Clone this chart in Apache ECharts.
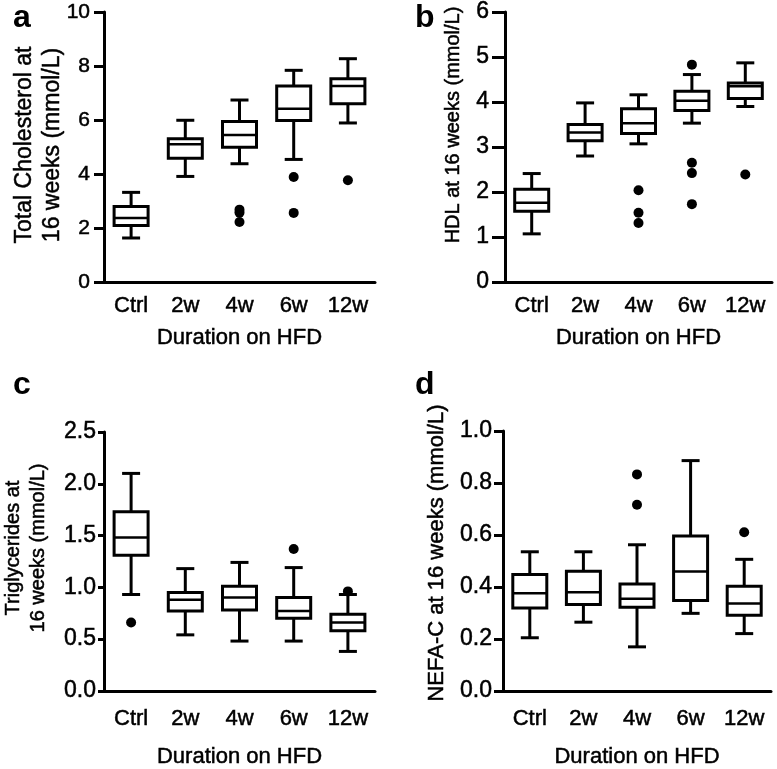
<!DOCTYPE html>
<html>
<head>
<meta charset="utf-8">
<script src="https://cdn.jsdelivr.net/npm/echarts@6/dist/echarts.min.js"></script>
<style>html,body{margin:0;padding:0;background:#fff}#c{width:777px;height:769px}</style>
</head>
<body>
<div id="c"></div>
<script>
const categories = ['Ctrl', '2w', '4w', '6w', '12w'];
// box rows: [lower whisker, Q1, median, Q3, upper whisker]
const cholBoxes = [[1.63, 2.09, 2.37, 2.80, 3.32], [3.91, 4.58, 5.10, 5.31, 5.99], [4.38, 4.99, 5.44, 5.94, 6.74], [4.54, 5.98, 6.42, 7.26, 7.84], [5.89, 6.60, 7.26, 7.53, 8.27]];
const cholOutliers = [['4w', 2.68], ['4w', 2.57], ['4w', 2.22], ['6w', 3.89], ['6w', 2.56], ['12w', 3.77]];
const hdlBoxes = [[1.07, 1.57, 1.76, 2.06, 2.41], [2.80, 3.14, 3.32, 3.50, 3.98], [3.07, 3.30, 3.53, 3.85, 4.16], [3.53, 3.81, 4.03, 4.24, 4.61], [3.90, 4.08, 4.35, 4.42, 4.87]];
const hdlOutliers = [['4w', 2.04], ['4w', 1.54], ['4w', 1.31], ['6w', 4.83], ['6w', 2.65], ['6w', 2.42], ['6w', 1.73], ['12w', 2.39]];
const tgBoxes = [[0.93, 1.31, 1.48, 1.73, 2.10], [0.54, 0.77, 0.88, 0.95, 1.18], [0.48, 0.78, 0.90, 1.01, 1.24], [0.48, 0.70, 0.77, 0.90, 1.19], [0.38, 0.58, 0.66, 0.74, 0.93]];
const tgOutliers = [['Ctrl', 0.66], ['6w', 1.37], ['12w', 0.96]];
const nefaBoxes = [[0.204, 0.319, 0.375, 0.448, 0.535], [0.264, 0.332, 0.379, 0.46, 0.535], [0.169, 0.321, 0.354, 0.411, 0.562], [0.298, 0.347, 0.459, 0.596, 0.886], [0.22, 0.291, 0.336, 0.402, 0.506]];
const nefaOutliers = [['4w', 0.833], ['4w', 0.716], ['12w', 0.61]];
const cholTicks = [0, 2, 4, 6, 8, 10];
const hdlTicks = [0, 1, 2, 3, 4, 5, 6];
const tgTicks = [0.0, 0.5, 1.0, 1.5, 2.0, 2.5];
const nefaTicks = [0.0, 0.2, 0.4, 0.6, 0.8, 1.0];
const xTitle = 'Duration on HFD';
const yTitles = [['Total Cholesterol at', '16 weeks (mmol/L)'], ['HDL at 16 weeks (mmol/L)'], ['Triglycerides at', '16 weeks (mmol/L)'], ['NEFA-C at 16 weeks (mmol/L)']];
const panelLetters = ['a', 'b', 'c', 'd'];

const FONT = '"Liberation Sans", Arial, sans-serif';
const TB = {textBorderColor: '#000', textBorderWidth: 0.5};
const panels = [
  {boxes: cholBoxes, outliers: cholOutliers, ticks: cholTicks, dec: 0,
   grid: {left: 104, top: 12, width: 271, height: 270}, yTick: 10, yMargin: 14, yFont: 21,
   xNameGap: 45, xMargin: 13,
   title: {x: 39, y: 145, size: 23, lh: 28}, letter: {x: 13, y: 18}},
  {boxes: hdlBoxes, outliers: hdlOutliers, ticks: hdlTicks, dec: 0,
   grid: {left: 505, top: 12, width: 267, height: 270}, yTick: 13, yMargin: 16, yFont: 23,
   xNameGap: 45, xMargin: 13,
   title: {x: 453, y: 125, size: 20, lh: 24}, letter: {x: 415, y: 18}},
  {boxes: tgBoxes, outliers: tgOutliers, ticks: tgTicks, dec: 1,
   grid: {left: 104, top: 432, width: 271, height: 270}, yTick: 6, yMargin: 8, yFont: 23,
   xNameGap: 55, xMargin: 17,
   title: {x: 26, y: 548, size: 20, lh: 25}, letter: {x: 13, y: 385}},
  {boxes: nefaBoxes, outliers: nefaOutliers, ticks: nefaTicks, dec: 1,
   grid: {left: 503, top: 431, width: 268, height: 270}, yTick: 9, yMargin: 11, yFont: 23,
   xNameGap: 55, xMargin: 17,
   title: {x: 437, y: 553, size: 22, lh: 26}, letter: {x: 415, y: 385}}
];

const BLACK = '#000';
function renderBox(params, api) {
  const i = api.value(0);
  const lo = api.coord([i, api.value(1)]);
  const q1 = api.coord([i, api.value(2)]);
  const md = api.coord([i, api.value(3)]);
  const q3 = api.coord([i, api.value(4)]);
  const hi = api.coord([i, api.value(5)]);
  const cx = lo[0];
  const hb = 17, hc = 9;
  const ls = {stroke: BLACK, lineWidth: 3};
  return {
    type: 'group',
    children: [
      {type: 'line', shape: {x1: cx, y1: hi[1], x2: cx, y2: q3[1]}, style: ls},
      {type: 'line', shape: {x1: cx, y1: q1[1], x2: cx, y2: lo[1]}, style: ls},
      {type: 'line', shape: {x1: cx - hc, y1: hi[1], x2: cx + hc, y2: hi[1]}, style: ls},
      {type: 'line', shape: {x1: cx - hc, y1: lo[1], x2: cx + hc, y2: lo[1]}, style: ls},
      {type: 'rect', shape: {x: cx - hb, y: q3[1], width: 2 * hb, height: q1[1] - q3[1]}, style: {fill: '#fff', stroke: BLACK, lineWidth: 3}},
      {type: 'line', shape: {x1: cx - hb, y1: md[1], x2: cx + hb, y2: md[1]}, style: {stroke: BLACK, lineWidth: 2.5}}
    ]
  };
}

const option = {
  animation: false,
  backgroundColor: '#fff',
  textStyle: {fontFamily: FONT, color: BLACK},
  grid: [], xAxis: [], yAxis: [], series: [], graphic: []
};

panels.forEach((p, k) => {
  option.grid.push(Object.assign({containLabel: false}, p.grid));
  option.xAxis.push({
    type: 'category', gridIndex: k, data: categories, boundaryGap: true,
    name: xTitle, nameLocation: 'middle', nameGap: p.xNameGap,
    nameTextStyle: Object.assign({fontSize: 22, color: BLACK, fontFamily: FONT}, TB),
    axisLine: {lineStyle: {color: BLACK, width: 3}},
    axisTick: {alignWithLabel: true, length: 6, lineStyle: {color: BLACK, width: 3}},
    axisLabel: Object.assign({fontSize: 22, color: BLACK, fontFamily: FONT, margin: p.xMargin, interval: 0}, TB),
    splitLine: {show: false}
  });
  const t = p.ticks;
  option.yAxis.push({
    type: 'value', gridIndex: k, min: t[0], max: t[t.length - 1], interval: t[1] - t[0],
    axisLine: {show: true, lineStyle: {color: BLACK, width: 3}},
    axisTick: {show: true, length: p.yTick, lineStyle: {color: BLACK, width: 3}},
    axisLabel: Object.assign({fontSize: p.yFont, color: BLACK, fontFamily: FONT, margin: p.yMargin,
      formatter: v => Number(v).toFixed(p.dec)}, TB),
    splitLine: {show: false}
  });
  option.series.push({
    type: 'custom', xAxisIndex: k, yAxisIndex: k, renderItem: renderBox,
    encode: {x: 0, y: [1, 2, 3, 4, 5]},
    data: p.boxes.map((b, i) => [i].concat(b)), z: 2
  });
  option.series.push({
    type: 'scatter', xAxisIndex: k, yAxisIndex: k, symbol: 'circle', symbolSize: 10,
    itemStyle: {color: BLACK, opacity: 1}, data: p.outliers, z: 3
  });
  const lines = yTitles[k];
  const n = lines.length;
  lines.forEach((s, j) => {
    option.graphic.push({
      type: 'text', x: p.title.x + (j - (n - 1) / 2) * p.title.lh, y: p.title.y, rotation: Math.PI / 2,
      style: {text: s, font: p.title.size + 'px ' + FONT, fill: BLACK, stroke: BLACK, lineWidth: 0.5, align: 'center', verticalAlign: 'middle'}
    });
  });
  option.graphic.push({
    type: 'text', x: p.letter.x, y: p.letter.y,
    style: {text: panelLetters[k], font: 'bold 32px ' + FONT, fill: BLACK, align: 'left', verticalAlign: 'middle'}
  });
});

const chart = echarts.init(document.getElementById('c'), null, {renderer: 'canvas'});
chart.setOption(option);
</script>
</body>
</html>
